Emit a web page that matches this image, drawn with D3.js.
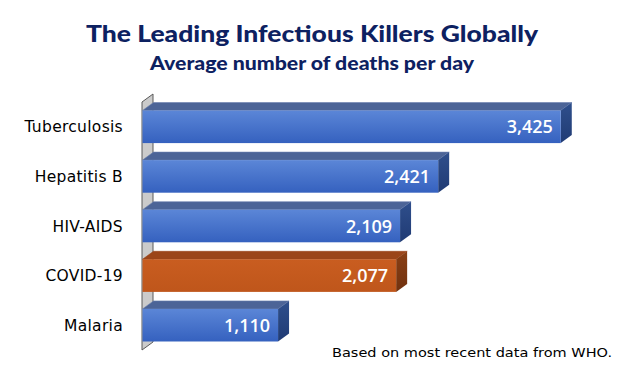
<!DOCTYPE html>
<html>
<head>
<meta charset="utf-8">
<script src="https://cdn.jsdelivr.net/npm/d3@7"></script>
<style>
  body { margin: 0; background: #fff; }
  svg { display: block; }
</style>
</head>
<body>
<svg id="chart" width="634" height="384"></svg>
<script>
const categories = ['Tuberculosis', 'Hepatitis B', 'HIV-AIDS', 'COVID-19', 'Malaria'];
const deaths = [3425, 2421, 2109, 2077, 1110];
const highlight = ['COVID-19'];

const width = 634, height = 384;
const depthX = 11, depthY = 8;

const svg = d3.select('#chart');

const defs = svg.append('defs');
function grad(id, top, bottom) {
  const g = defs.append('linearGradient').attr('id', id)
    .attr('x1', 0).attr('y1', 0).attr('x2', 0).attr('y2', 1);
  g.append('stop').attr('offset', '0%').attr('stop-color', top);
  g.append('stop').attr('offset', '100%').attr('stop-color', bottom);
}
grad('blueFront', '#5b86d7', '#3561bf');
grad('blueSide', '#2f4f8c', '#203b74');
grad('orangeFront', '#c95d20', '#bf561b');
grad('orangeSide', '#8a3f14', '#713210');

const x = d3.scaleLinear().domain([0, 4000]).range([142.5, 631]);
const y = d3.scaleBand().domain(categories).range([102, 350])
  .paddingInner(0.343).paddingOuter(0.1715);

// back wall
const wx = x(0) - 0.5;
svg.append('path')
  .attr('d', `M${wx},${y.range()[0]} L${wx + depthX},${y.range()[0] - depthY} L${wx + depthX},${y.range()[1] - depthY} L${wx},${y.range()[1]} Z`)
  .attr('fill', '#cbcbcb')
  .attr('stroke', '#5a5a5a')
  .attr('stroke-width', 1);

const bars = svg.append('g').selectAll('g')
  .data(categories)
  .join('g');

bars.each(function(c, i) {
  const g = d3.select(this);
  const x0 = x(0), x1 = x(deaths[i]);
  const y0 = y(c), h = y.bandwidth();
  const orange = highlight.includes(c);
  // top face
  g.append('path')
    .attr('d', `M${x0},${y0} L${x0 + depthX},${y0 - depthY} L${x1 + depthX},${y0 - depthY} L${x1},${y0} Z`)
    .attr('fill', orange ? '#9b4519' : '#4c6497')
    .attr('stroke', orange ? '#9b4519' : '#6a7fae')
    .attr('stroke-width', 0.6);
  // side face
  g.append('path')
    .attr('d', `M${x1},${y0} L${x1 + depthX},${y0 - depthY} L${x1 + depthX},${y0 + h - depthY} L${x1},${y0 + h} Z`)
    .attr('fill', orange ? 'url(#orangeSide)' : 'url(#blueSide)');
  // front face
  g.append('rect')
    .attr('x', x0).attr('y', y0)
    .attr('width', x1 - x0).attr('height', h)
    .attr('fill', orange ? 'url(#orangeFront)' : 'url(#blueFront)');
  // value
  g.append('text')
    .attr('x', x1 - 8)
    .attr('y', y0 + h / 2 + 6.5)
    .attr('text-anchor', 'end')
    .attr('fill', '#fff')
    .attr('font-family', 'Open Sans, sans-serif')
    .attr('font-weight', 600)
    .attr('font-size', 18)
    .text(d3.format(',')(deaths[i]));
});

// category labels
svg.append('g').selectAll('text')
  .data(categories)
  .join('text')
  .attr('x', 123)
  .attr('y', d => y(d) + y.bandwidth() / 2 + 5.5)
  .attr('text-anchor', 'end')
  .attr('fill', '#000')
  .attr('font-family', 'DejaVu Sans, sans-serif')
  .attr('font-size', 15.5)
  .attr('letter-spacing', 0.3)
  .text(d => d);

// titles
svg.append('text')
  .attr('x', 312).attr('y', 41.5)
  .attr('text-anchor', 'middle')
  .attr('fill', '#0d2161')
  .attr('font-family', 'Lato, sans-serif')
  .attr('font-weight', 900)
  .attr('font-size', 23.5)
  .attr('textLength', 452)
  .attr('lengthAdjust', 'spacingAndGlyphs')
  .text('The Leading Infectious Killers Globally');

svg.append('text')
  .attr('x', 312).attr('y', 70)
  .attr('text-anchor', 'middle')
  .attr('fill', '#0d2161')
  .attr('font-family', 'Lato, sans-serif')
  .attr('font-weight', 900)
  .attr('font-size', 18)
  .attr('textLength', 324)
  .attr('lengthAdjust', 'spacingAndGlyphs')
  .text('Average number of deaths per day');

svg.append('text')
  .attr('x', 332).attr('y', 357)
  .attr('fill', '#000')
  .attr('font-family', 'DejaVu Sans, sans-serif')
  .attr('font-size', 12.5)
  .attr('textLength', 280)
  .attr('lengthAdjust', 'spacingAndGlyphs')
  .text('Based on most recent data from WHO.');
</script>
</body>
</html>
